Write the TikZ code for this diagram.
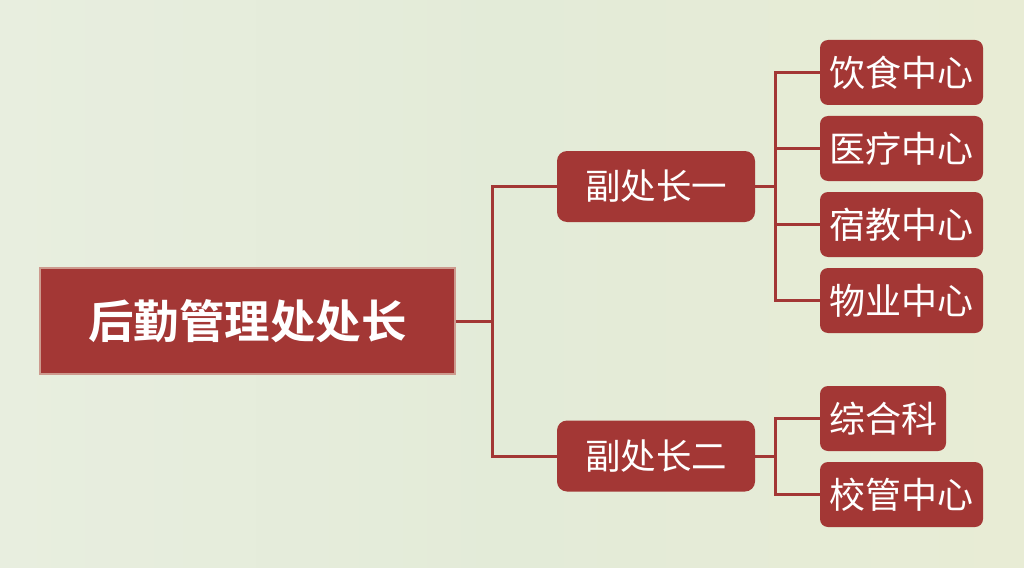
\documentclass[tikz,border=0pt]{standalone}
\usepackage{fontspec}
\newfontfamily\cjk{Noto Sans CJK SC}
\newfontfamily\cjkb{Noto Sans CJK SC Bold}
\definecolor{boxred}{HTML}{A33735}
\definecolor{boxedge}{HTML}{CD9A8E}
\definecolor{bgl}{HTML}{E8EEDF}
\definecolor{bgm}{HTML}{E3EBD8}
\definecolor{bgr}{HTML}{E8ECD5}
\begin{document}
\begin{tikzpicture}[x=1pt,y=-1pt,
  mainbox/.style={fill=boxred,draw=boxedge,line width=1.5pt,minimum width=415pt,minimum height=106pt,inner sep=0pt,text=white,font=\cjkb\fontsize{45.5}{45.5}\selectfont},
  midbox/.style={fill=boxred,rounded corners=10pt,minimum width=198pt,minimum height=71pt,inner sep=0pt,text=white,font=\cjk\fontsize{35.5}{35.5}\selectfont},
  leafbox/.style={fill=boxred,rounded corners=8pt,minimum width=163pt,minimum height=65pt,inner sep=0pt,text=white,font=\cjk\fontsize{36}{36}\selectfont},
  conn/.style={draw=boxred,line width=3pt}]
\useasboundingbox (0,0) rectangle (1024,567);
\shade[left color=bgl,right color=bgr,middle color=bgm] (0,0) rectangle (1024,567);
\node[mainbox] (main) at (247.5,321) {后勤管理处处长};
\node[midbox] (m1) at (656,186.5) {副处长一};
\node[midbox] (m2) at (656,456) {副处长二};
\node[leafbox] (l1) at (901.5,72.5) {饮食中心};
\node[leafbox] (l2) at (901.5,148.5) {医疗中心};
\node[leafbox] (l3) at (901.5,224.5) {宿教中心};
\node[leafbox] (l4) at (901.5,300.5) {物业中心};
\node[leafbox,minimum width=126pt] (l5) at (883,418.5) {综合科};
\node[leafbox] (l6) at (901.5,494.5) {校管中心};
\coordinate (j1) at (492,321);
\coordinate (j2) at (775,186.5);
\coordinate (j3) at (775,456);
\draw[conn] (main.east) -- (j1);
\draw[conn] (m1.west) -| (j1);
\draw[conn] (m2.west) -| (j1);
\draw[conn] (m1.east) -- (j2);
\draw[conn] (l1.west) -| (j2);
\draw[conn] (l2.west) -| (j2);
\draw[conn] (l3.west) -| (j2);
\draw[conn] (l4.west) -| (j2);
\draw[conn] (m2.east) -- (j3);
\draw[conn] (l5.west) -| (j3);
\draw[conn] (l6.west) -| (j3);
\end{tikzpicture}
\end{document}
